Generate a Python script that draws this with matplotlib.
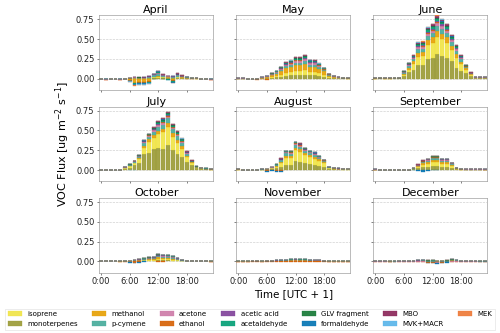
import matplotlib
matplotlib.use("Agg")
import matplotlib.pyplot as plt
import numpy as np

months = ["April", "May", "June", "July", "August", "September",
          "October", "November", "December"]
hours = list(range(24))
xtick_pos = [0, 6, 12, 18]
xtick_labels = ["0:00", "6:00", "12:00", "18:00"]
ytick_vals = [0.0, 0.25, 0.5, 0.75]

# legend order
legend_species = ["isoprene", "monoterpenes", "methanol", "p-cymene", "acetone",
                  "ethanol", "acetic acid", "acetaldehyde", "GLV fragment",
                  "formaldehyde", "MBO", "MVK+MACR", "MEK"]
# stacking order (bottom first)
stack_species = ["monoterpenes", "isoprene", "methanol", "p-cymene", "acetone",
                 "ethanol", "acetic acid", "acetaldehyde", "GLV fragment",
                 "formaldehyde", "MBO", "MVK+MACR", "MEK"]
colors = {"isoprene": "#f0e442", "monoterpenes": "#999933", "methanol": "#e69f00",
          "p-cymene": "#44aa99", "acetone": "#cc79a7", "ethanol": "#d55e00",
          "acetic acid": "#7f3f98", "acetaldehyde": "#009e73",
          "GLV fragment": "#117733", "formaldehyde": "#0072b2", "MBO": "#882255",
          "MVK+MACR": "#56b4e9", "MEK": "#ee7733"}

# Flux values in 0.001 ug m-2 s-1, rows: Apr..Dec, columns: hour 0..23
monoterpenes = [
    [0,0,0,0,0,0,2,3,3,3,5,8,10,8,5,5,8,5,3,2,1,0,0,0],
    [0,0,0,0,0,3,5,12,18,25,35,40,45,45,50,40,40,35,25,10,5,3,2,1],
    [0,3,0,0,3,3,30,80,110,170,170,250,260,310,290,260,220,130,100,70,30,5,5,5],
    [3,3,3,3,0,15,30,60,90,200,210,270,280,270,320,250,200,160,100,70,25,15,10,5],
    [5,2,2,2,2,4,3,12,20,40,70,70,110,100,85,80,70,55,40,12,10,8,5,5],
    [3,2,2,2,2,2,2,2,8,20,35,40,50,50,40,40,25,8,3,3,3,3,3,3],
    [2,3,2,2,0,0,0,3,5,8,10,12,18,17,15,12,8,4,2,2,2,2,1,0],
    [2,2,1,1,2,2,3,2,3,5,6,8,8,7,8,6,5,4,3,3,3,3,3,2],
    [2,2,2,1,2,2,2,2,2,3,3,4,4,3,3,4,5,4,3,3,2,2,2,2],
]
isoprene = [
    [0,0,0,0,0,0,0,2,2,3,5,8,12,8,5,5,8,5,3,1,0,0,0,0],
    [0,0,0,0,0,2,5,10,15,25,40,45,55,55,60,45,45,35,25,8,5,2,0,0],
    [0,0,0,0,0,0,15,30,70,100,110,170,190,220,210,190,140,130,80,40,15,0,0,0],
    [0,0,0,0,0,5,15,25,45,80,150,130,170,210,230,170,140,110,60,25,8,5,3,0],
    [0,0,0,0,0,0,2,10,20,45,80,80,140,130,100,80,75,60,45,10,8,5,2,2],
    [0,0,0,0,0,0,0,0,5,15,30,40,50,50,40,40,25,8,2,0,0,0,0,0],
    [0,0,0,0,0,0,0,2,4,6,8,10,15,14,12,10,6,3,1,0,0,0,0,0],
    [0,0,0,0,0,0,0,0,0,0,0,0,0,0,0,0,0,0,0,0,0,0,0,0],
    [0,0,0,0,0,0,0,0,0,0,0,0,0,0,0,0,0,0,0,0,0,0,0,0],
]
methanol = [
    [-5,-8,-3,-3,-8,-5,-20,-50,-40,-40,-30,10,15,10,5,-20,10,8,5,3,2,-3,-5,-8],
    [1,1,0,-10,-5,5,10,20,30,45,60,65,75,75,80,65,65,55,40,20,10,6,3,2],
    [3,3,2,3,3,3,15,30,40,60,60,70,70,75,70,70,55,50,35,20,10,5,5,5],
    [1,1,1,1,0,5,8,10,15,30,30,40,45,45,45,45,40,35,20,8,4,3,2,2],
    [2,1,1,1,1,2,2,5,10,20,30,30,30,30,25,25,25,20,15,6,4,3,1,1],
    [2,2,1,1,1,1,2,2,5,12,20,22,25,25,22,22,15,5,2,2,2,2,2,2],
    [2,3,2,2,-3,-3,-5,5,8,10,12,14,20,18,18,15,10,5,3,3,3,3,2,-5],
    [-3,-3,-3,2,2,-3,2,3,4,5,6,6,8,7,6,5,4,4,3,-3,-3,-3,-3,-3],
    [2,2,2,-2,2,2,2,3,3,4,5,3,3,-3,3,4,8,6,3,3,3,2,2,2],
]
p_cymene = [
    [-2,-3,-1,-1,-3,-2,5,8,5,5,10,15,20,10,10,10,15,8,4,2,1,-1,-2,-3],
    [0,0,0,0,0,3,5,8,10,15,20,20,25,25,30,25,25,20,15,7,5,3,2,1],
    [0,0,0,0,0,0,10,20,25,40,40,50,55,60,58,55,45,40,30,15,8,2,2,2],
    [0,0,0,0,0,5,8,10,15,30,30,45,50,50,60,50,45,35,25,7,3,2,2,1],
    [1,1,1,1,1,2,1,5,10,20,30,25,35,35,30,30,25,20,15,6,4,2,1,1],
    [1,1,1,1,1,1,1,1,5,10,15,18,22,22,18,18,12,4,2,1,1,1,1,1],
    [1,2,1,1,0,0,0,3,5,6,7,8,12,12,12,10,6,3,2,2,2,2,1,0],
    [1,1,1,1,1,1,1,2,3,3,4,5,5,5,5,4,3,3,2,1,1,1,1,1],
    [1,1,1,-2,-2,1,1,2,3,5,5,-5,-5,-8,-5,-3,3,3,2,1,1,1,-2,-2],
]
acetone = [
    [-1,-2,-1,-1,-2,-1,2,3,2,3,5,8,10,6,5,5,8,5,2,1,1,-1,-1,-2],
    [1,1,0,0,0,2,3,5,8,12,15,17,20,20,22,18,17,15,10,5,3,2,1,1],
    [2,2,1,1,2,2,8,12,15,25,25,30,30,35,32,30,25,22,15,8,5,3,3,3],
    [0,0,0,0,0,3,4,5,8,12,12,15,20,20,20,18,20,18,10,3,2,2,1,1],
    [1,1,1,1,1,1,1,3,5,8,12,12,15,15,12,10,10,8,5,2,1,1,1,1],
    [1,1,1,0,0,0,1,1,3,5,8,9,10,10,9,9,6,2,1,1,1,1,1,1],
    [0,1,0,0,0,-2,0,2,3,4,5,6,10,10,10,10,5,2,1,1,1,1,1,-2],
    [-2,-2,-2,1,1,-2,1,1,2,2,3,3,3,3,3,2,2,2,1,-2,-2,-2,-2,-2],
    [-2,-2,-2,-3,-2,-2,-2,-2,-2,-3,-3,-3,-5,-3,-3,-2,-2,-3,-3,-2,-2,-2,-2,-2],
]
ethanol = [
    [-2,-2,0,0,-2,-2,-5,-10,-10,-10,-10,-5,0,-5,-10,-15,0,0,-5,-3,0,0,-2,-2],
    [0,0,0,0,-10,-10,-20,3,4,5,7,8,9,9,9,8,8,6,5,2,1,1,1,0],
    [0,2,0,1,2,2,3,5,5,8,8,10,10,10,10,10,8,8,5,3,2,2,2,2],
    [0,0,0,0,0,1,1,2,3,5,5,6,8,8,8,8,6,5,3,1,0,0,0,0],
    [1,0,0,0,0,1,-10,-5,-10,-10,5,5,6,5,5,4,4,3,2,1,1,0,0,0],
    [-5,-5,-3,-3,-3,-3,-5,-5,0,2,3,4,4,4,4,4,2,1,0,0,0,0,0,-3],
    [0,0,0,0,-2,0,-5,-20,-10,0,0,0,-5,-3,0,0,0,0,0,0,0,0,0,-3],
    [-5,-5,-4,-2,-2,-4,-3,-3,-3,-5,-5,-3,-3,-3,-3,-3,-4,-4,-3,-5,-5,-5,-5,-5],
    [-3,-3,-2,-2,-3,-3,-2,-3,-3,-3,-3,-5,-8,-5,-5,-5,-3,-3,-3,-3,-3,-3,-3,-3],
]
acetic_acid = [
    [0,0,0,0,0,0,1,2,2,2,3,5,8,5,3,3,5,3,1,1,0,0,0,0],
    [0,0,0,0,0,1,2,3,4,6,9,10,12,12,13,10,10,7,6,2,2,1,1,0],
    [0,0,0,0,0,0,4,5,8,12,12,15,17,20,18,17,13,10,8,4,2,1,1,1],
    [0,0,0,0,0,1,2,2,3,5,5,8,10,10,10,8,10,8,5,2,1,1,1,0],
    [0,0,0,0,0,0,1,1,3,5,6,6,8,8,7,5,5,4,3,1,1,1,0,0],
    [0,0,0,0,0,0,0,0,2,2,3,4,5,5,4,4,3,1,0,0,0,0,0,0],
    [0,1,0,0,0,0,0,2,2,3,4,5,6,6,5,5,3,1,1,1,1,1,0,0],
    [1,1,1,1,1,1,1,1,1,2,2,3,3,3,3,2,2,2,1,1,1,1,1,1],
    [1,1,1,1,1,1,1,1,1,2,2,3,3,2,2,2,2,2,1,1,1,1,1,1],
]
acetaldehyde = [
    [0,0,0,0,0,0,-5,-10,-10,-10,-10,-5,5,-5,-5,-10,3,2,0,0,0,0,0,0],
    [1,1,0,0,0,1,2,3,3,5,7,8,9,9,10,8,8,6,5,2,1,1,0,0],
    [0,0,0,0,0,0,4,5,8,12,12,15,16,18,17,16,13,10,8,4,2,1,1,1],
    [1,1,1,1,0,2,3,2,4,6,6,8,10,12,12,10,10,8,5,2,1,1,1,1],
    [0,0,0,0,0,0,0,1,3,4,5,5,6,6,6,4,4,4,2,1,1,0,0,0],
    [0,0,0,0,0,0,0,0,2,2,3,3,4,4,3,3,2,1,0,0,0,0,0,0],
    [0,0,0,0,0,0,0,2,2,3,3,4,6,6,5,5,3,1,1,1,1,1,0,0],
    [0,0,0,0,0,0,0,1,1,1,2,2,2,2,2,1,1,1,0,0,0,0,0,0],
    [0,0,0,0,0,0,0,1,1,2,2,2,3,2,2,2,5,2,1,1,1,0,0,0],
]
glv_fragment = [
    [0,0,0,0,0,0,1,1,1,1,2,3,5,3,2,2,3,2,1,0,0,0,0,0],
    [0,0,0,0,0,1,1,2,3,4,6,6,8,8,8,6,6,4,3,1,1,1,0,0],
    [0,0,0,0,0,0,3,4,6,9,10,12,14,16,15,14,11,9,6,3,2,0,0,0],
    [0,0,0,0,0,1,2,2,3,5,5,8,10,12,10,8,10,8,4,1,1,1,0,0],
    [0,0,0,0,0,0,0,0,2,3,3,3,4,4,4,3,3,2,2,1,0,0,0,0],
    [0,0,0,0,0,0,0,0,1,2,2,3,4,4,3,3,2,1,0,0,0,0,0,0],
    [0,0,0,0,0,0,0,1,1,1,2,2,3,3,2,2,1,1,0,0,0,0,0,0],
    [0,0,0,0,0,0,0,0,0,0,1,1,1,1,1,0,0,0,0,0,0,0,0,0],
    [0,0,0,0,0,0,0,0,0,1,2,3,2,2,2,1,3,1,0,0,0,0,0,0],
]
formaldehyde = [
    [0,0,0,0,0,0,-5,-10,-10,-10,-10,0,5,0,-5,-5,0,0,0,0,0,0,0,0],
    [0,0,0,0,0,1,1,1,2,3,3,4,4,4,5,4,4,3,2,1,1,0,0,0],
    [0,0,0,0,0,0,2,3,4,6,6,8,8,8,8,8,6,5,4,2,1,0,0,0],
    [0,0,0,0,0,1,1,1,2,2,2,3,5,5,5,4,4,4,2,1,0,0,0,0],
    [0,0,0,0,0,0,-10,-5,-10,-20,0,0,1,1,1,1,1,1,0,0,0,0,0,0],
    [0,0,0,0,0,0,0,0,-5,-15,-20,-15,-5,-3,0,0,0,0,0,0,0,0,0,0],
    [0,0,0,0,0,0,-3,-5,-3,-2,0,0,0,0,0,0,0,0,0,0,0,0,0,0],
    [0,0,0,0,0,0,0,0,0,0,0,0,0,0,0,0,0,0,0,0,0,0,0,0],
    [0,0,0,0,0,0,0,0,0,0,0,-8,-5,-10,-5,-3,0,0,0,0,0,0,0,0],
]
mbo = [
    [0,0,0,0,0,0,1,1,1,1,2,3,5,3,3,2,5,2,1,0,0,0,0,0],
    [0,0,0,0,0,1,1,2,2,3,5,5,6,6,8,5,5,3,2,1,1,0,0,0],
    [0,0,0,0,0,0,3,3,5,10,10,12,15,18,16,14,10,8,5,3,2,1,1,1],
    [0,0,0,0,0,1,1,1,2,3,3,5,8,12,10,6,8,6,3,1,0,0,0,0],
    [0,0,0,0,0,0,0,0,2,3,3,3,4,5,4,3,3,2,1,0,0,0,0,0],
    [0,0,0,0,0,0,0,0,0,1,2,2,3,3,2,2,1,0,0,0,0,0,0,0],
    [0,0,0,0,0,0,0,0,0,1,1,1,2,2,1,1,0,0,0,0,0,0,0,0],
    [0,0,0,0,0,0,0,0,0,0,0,0,0,0,0,0,0,0,0,0,0,0,0,0],
    [0,0,0,0,0,0,0,0,0,0,0,0,0,0,0,0,0,0,0,0,0,0,0,0],
]
mvk_macr = [
    [0,0,0,0,0,0,-3,-5,-5,-5,-5,0,3,0,0,0,2,1,0,0,0,0,0,0],
    [0,0,0,0,0,0,0,1,1,2,2,2,3,3,3,2,2,2,1,0,0,0,0,0],
    [0,0,0,0,0,0,1,2,2,5,5,6,6,7,7,6,5,4,3,2,1,0,0,0],
    [0,0,0,0,0,0,-5,-3,1,2,2,2,3,4,4,3,3,3,2,0,0,0,0,0],
    [0,0,0,0,0,0,0,0,0,1,1,1,1,1,1,0,0,1,0,0,0,0,0,0],
    [0,0,0,0,0,0,0,0,0,0,0,0,0,0,0,0,0,0,0,0,0,0,0,0],
    [0,0,0,0,0,0,0,0,0,0,0,0,0,0,0,0,0,0,0,0,0,0,0,0],
    [0,0,0,0,0,0,0,0,0,0,0,0,0,0,0,0,0,0,0,0,0,0,0,0],
    [0,0,0,0,0,0,0,0,0,0,0,0,0,0,0,0,0,0,0,0,0,0,0,0],
]
mek = [
    [-1,-1,0,0,-1,-1,-2,-5,-3,-3,-3,0,2,0,0,-2,0,0,0,0,0,0,-1,-1],
    [0,0,0,0,0,0,0,0,0,0,1,0,0,0,2,4,4,0,1,0,0,0,0,0],
    [0,0,0,0,0,0,2,1,2,3,4,5,5,6,5,5,4,4,2,2,1,0,0,0],
    [0,0,0,0,0,0,0,0,1,2,2,2,3,3,3,2,3,2,1,0,0,0,0,0],
    [0,0,0,0,0,0,0,0,0,0,0,0,0,0,0,0,0,0,0,0,0,0,0,0],
    [0,0,0,0,0,0,0,0,0,0,0,0,0,0,0,0,0,0,0,0,0,0,0,0],
    [0,0,0,0,0,0,0,0,0,0,0,0,0,0,0,0,0,0,0,0,0,0,0,0],
    [0,0,0,0,0,0,0,0,0,0,0,0,0,0,0,0,0,0,0,0,0,0,0,0],
    [0,0,0,0,0,0,0,0,0,0,0,0,0,0,0,0,0,0,0,0,0,0,0,0],
]

flux = {"monoterpenes": monoterpenes, "isoprene": isoprene, "methanol": methanol,
        "p-cymene": p_cymene, "acetone": acetone, "ethanol": ethanol,
        "acetic acid": acetic_acid, "acetaldehyde": acetaldehyde,
        "GLV fragment": glv_fragment, "formaldehyde": formaldehyde,
        "MBO": mbo, "MVK+MACR": mvk_macr, "MEK": mek}

plt.rcParams['font.family'] = ['DejaVu Sans']
fig, axes = plt.subplots(3, 3, figsize=(10, 6.66), dpi=50, sharex=True, sharey=True)
fig.subplots_adjust(left=0.198, right=0.975, top=0.954, bottom=0.181,
                    wspace=0.2, hspace=0.227)

x = np.array(hours)
handles = {}
for mi, (ax, month) in enumerate(zip(axes.flat, months)):
    pos_bottom = np.zeros(24)
    neg_bottom = np.zeros(24)
    for sp in stack_species:
        vals = np.array(flux[sp][mi], dtype=float) / 1000.0
        bottom = np.where(vals >= 0, pos_bottom, neg_bottom)
        b = ax.bar(x, vals, width=0.8, bottom=bottom, color=colors[sp],
                   alpha=0.9, edgecolor=colors[sp], linewidth=0.5, label=sp,
                   zorder=3)
        handles[sp] = b
        pos_bottom = pos_bottom + np.where(vals >= 0, vals, 0)
        neg_bottom = neg_bottom + np.where(vals < 0, vals, 0)
    ax.set_title(month, fontsize=16, pad=3)
    ax.grid(axis='y', linestyle='--', color='#cccccc', linewidth=0.9, zorder=0)
    for s in ax.spines.values():
        s.set_color('#888888')
    ax.tick_params(labelsize=12, colors='#222222', length=3)

axes[0, 0].set_xlim(-0.45, 23.5)
axes[0, 0].set_ylim(-0.142, 0.80)
axes[0, 0].set_xticks(xtick_pos)
axes[0, 0].set_xticklabels(xtick_labels)
axes[0, 0].set_yticks(ytick_vals)
axes[0, 0].set_yticklabels(["0.00", "0.25", "0.50", "0.75"])

axes[1, 0].set_ylabel(r"VOC Flux [ug m$^{-2}$ s$^{-1}$]", fontsize=16, labelpad=6)
axes[2, 1].set_xlabel("Time [UTC + 1]", fontsize=15, labelpad=4)

fig.legend([handles[s] for s in legend_species], legend_species,
           loc='lower center', bbox_to_anchor=(0.5, 0.0), ncol=7, fontsize=10,
           frameon=True, edgecolor='#dddddd', fancybox=False)

fig.savefig("out.png", dpi=50)
